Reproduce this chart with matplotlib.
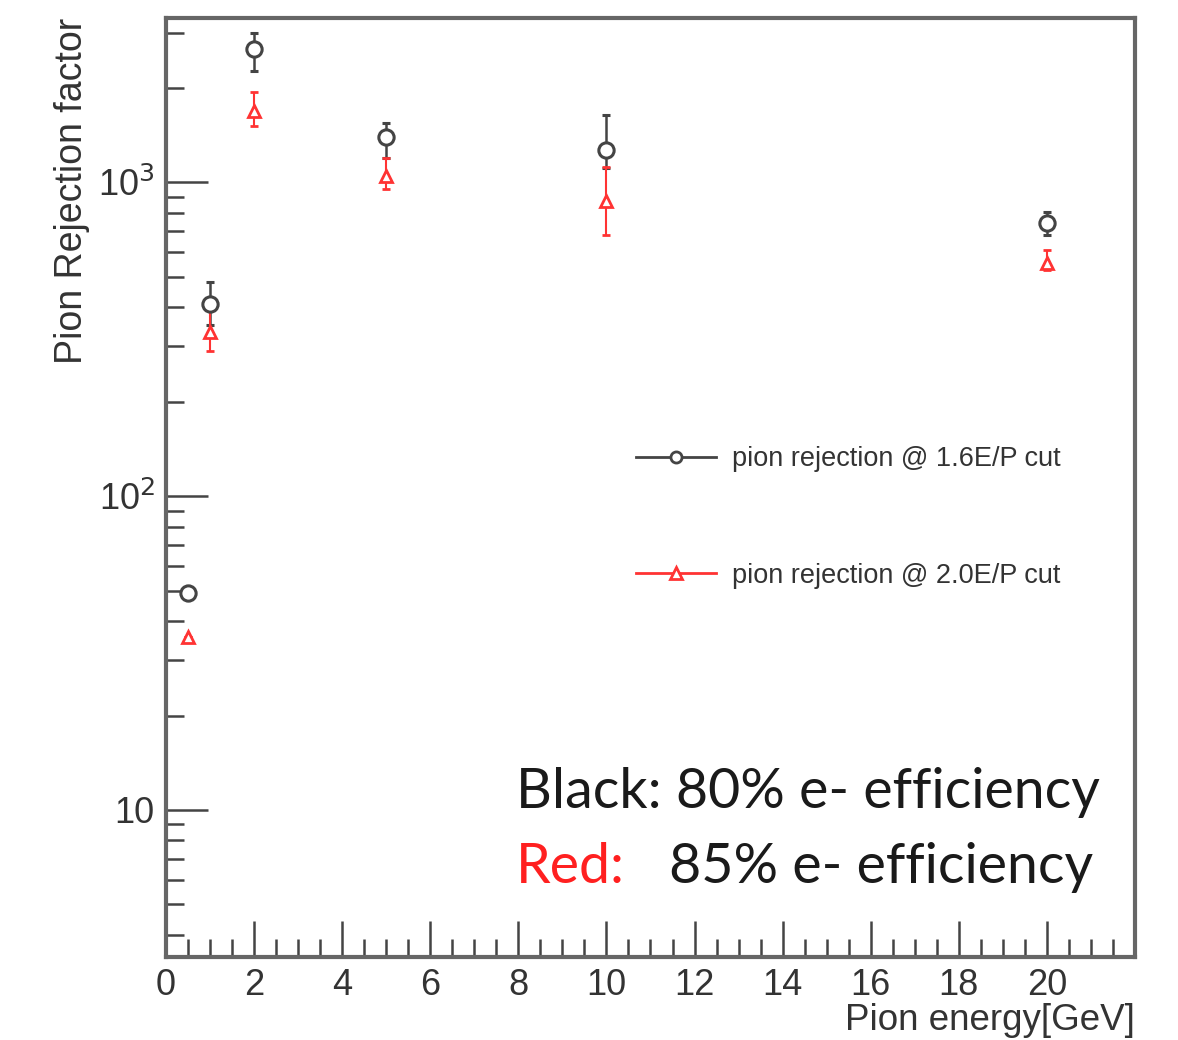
import numpy as np
import matplotlib
matplotlib.use("Agg")
import matplotlib.pyplot as plt
from matplotlib.lines import Line2D
from matplotlib.ticker import MultipleLocator, LogLocator, FixedLocator, NullFormatter

plt.rcParams['font.family'] = ['Liberation Sans', 'DejaVu Sans']

# pion energy [GeV]
energy = [0.5, 1, 2, 5, 10, 20]

# 1.6 E/P cut (black, 80% e- efficiency)
rej_16 = [49, 411, 2670, 1390, 1265, 740]
err_16_lo = [0, 60, 410, 190, 150, 60]
err_16_hi = [0, 70, 330, 160, 370, 62]

# 2.0 E/P cut (red, 85% e- efficiency)
rej_20 = [35.7, 333, 1684, 1045, 870, 552]
err_20_lo = [0, 42, 175, 90, 192, 25]
err_20_hi = [0, 58, 252, 155, 247, 55]

xtick_vals = [0, 2, 4, 6, 8, 10, 12, 14, 16, 18, 20]
ytick_vals = [10, 100, 1000]
ytick_text = ['10', r'10$^{2}$', r'10$^{3}$']

gray = '#444444'
red = '#ff3333'

fig = plt.figure(figsize=(11.78, 10.40), dpi=100)
ax = fig.add_axes([0.1409, 0.0798, 0.8226, 0.9029])

ax.errorbar(energy, rej_16, yerr=[err_16_lo, err_16_hi], fmt='o', mfc='white', mec=gray,
            ecolor=gray, ms=11, mew=2.2, elinewidth=1.8, capsize=3)
ax.errorbar(energy, rej_20, yerr=[err_20_lo, err_20_hi], fmt='^', mfc='white', mec=red,
            ecolor=red, ms=9, mew=2.0, elinewidth=1.5, capsize=3)

ax.set_yscale('log')
ax.set_xlim(0, 22)
ax.set_ylim(3.4, 3340)

ax.xaxis.set_major_locator(FixedLocator(xtick_vals))
ax.xaxis.set_minor_locator(MultipleLocator(0.5))
ax.yaxis.set_major_locator(FixedLocator(ytick_vals))
ax.set_yticklabels(ytick_text)
ax.yaxis.set_minor_locator(LogLocator(base=10, subs=np.arange(2, 10)))
ax.yaxis.set_minor_formatter(NullFormatter())

ax.tick_params(which='both', direction='in', colors=gray, labelcolor='#333333')
ax.tick_params(axis='x', which='major', length=26, width=1.8, labelsize=26, pad=8)
ax.tick_params(axis='x', which='minor', length=13, width=1.8)
ax.tick_params(axis='y', which='major', length=30, width=1.8, labelsize=26, pad=8)
ax.tick_params(axis='y', which='minor', length=13, width=1.8)

for s in ax.spines.values():
    s.set_color('#666666')
    s.set_linewidth(3)

ax.set_xlabel('Pion energy[GeV]', fontsize=26.5, color='#333333', loc='right', labelpad=0)
ax.set_ylabel('Pion Rejection factor', fontsize=27, color='#333333', loc='top', labelpad=6)

handles = [
    Line2D([], [], color=gray, lw=2, marker='o', ms=8, mfc='white', mec=gray, mew=2),
    Line2D([], [], color=red, lw=2, marker='^', ms=8, mfc='white', mec=red, mew=2),
]
labels = ['pion rejection @ 1.6E/P cut', 'pion rejection @ 2.0E/P cut']
leg = ax.legend(handles, labels, loc='upper left', bbox_to_anchor=(0.46, 0.57),
                frameon=False, fontsize=19.5, labelspacing=3.35, handlelength=2.95,
                handletextpad=0.6)
for t in leg.get_texts():
    t.set_color('#333333')

ax.text(0.361, 0.175, 'Black: 80% e- efficiency', transform=ax.transAxes, fontsize=40,
        family=['Lato', 'DejaVu Sans'], color='#1a1a1a', va='center')
ax.text(0.361, 0.095, 'Red:', transform=ax.transAxes, fontsize=40,
        family=['Lato', 'DejaVu Sans'], color='#ff2020', va='center')
ax.text(0.519, 0.095, '85% e- efficiency', transform=ax.transAxes, fontsize=40,
        family=['Lato', 'DejaVu Sans'], color='#1a1a1a', va='center')

fig.savefig('out.png', dpi=100)
